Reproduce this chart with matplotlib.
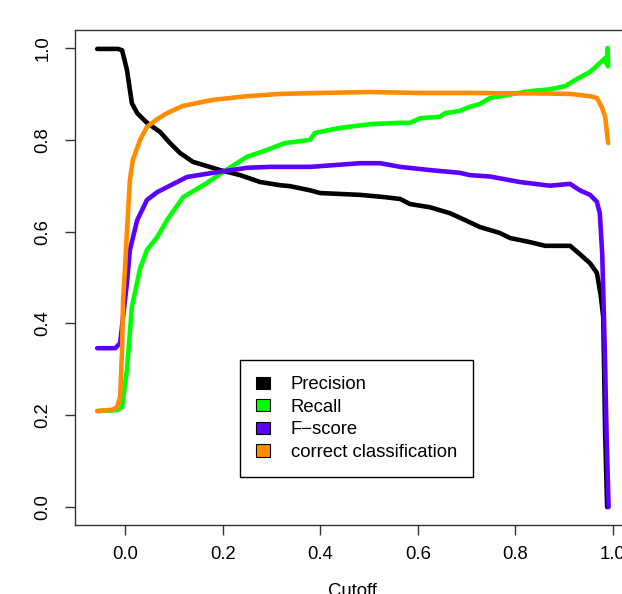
import matplotlib
matplotlib.use("Agg")
import matplotlib.pyplot as plt
from matplotlib.patches import Patch

plt.rcParams['font.family'] = ['Liberation Sans', 'DejaVu Sans']

# ---- data ----
prec_x = [-0.057, -0.014, -0.006, 0.004, 0.014, 0.025, 0.045, 0.072, 0.092, 0.113,
          0.139, 0.195, 0.236, 0.277, 0.318, 0.338, 0.379, 0.400, 0.482, 0.533,
          0.564, 0.584, 0.625, 0.666, 0.697, 0.727, 0.768, 0.789, 0.830, 0.861,
          0.912, 0.932, 0.953, 0.967, 0.975, 0.980, 0.984, 0.988]
prec_y = [0.998, 0.998, 0.995, 0.952, 0.880, 0.858, 0.837, 0.817, 0.793, 0.771,
          0.752, 0.734, 0.723, 0.708, 0.701, 0.699, 0.690, 0.684, 0.680, 0.675,
          0.671, 0.660, 0.653, 0.640, 0.625, 0.610, 0.597, 0.586, 0.577, 0.569,
          0.569, 0.551, 0.531, 0.510, 0.460, 0.414, 0.160, 0.000]

rec_x = [-0.057, -0.016, -0.006, 0.004, 0.010, 0.014, 0.031, 0.045, 0.066, 0.086,
         0.119, 0.168, 0.201, 0.250, 0.291, 0.318, 0.328, 0.359, 0.379, 0.389,
         0.441, 0.502, 0.564, 0.584, 0.605, 0.645, 0.656, 0.686, 0.707, 0.727,
         0.748, 0.768, 0.830, 0.871, 0.902, 0.922, 0.953, 0.973, 0.984, 0.987,
         0.989, 0.990]
rec_y = [0.209, 0.211, 0.218, 0.300, 0.380, 0.436, 0.520, 0.560, 0.588, 0.625,
         0.675, 0.706, 0.730, 0.763, 0.778, 0.789, 0.793, 0.797, 0.800, 0.815,
         0.826, 0.834, 0.837, 0.837, 0.847, 0.850, 0.858, 0.863, 0.872, 0.878,
         0.891, 0.895, 0.906, 0.910, 0.917, 0.930, 0.948, 0.967, 0.978, 0.965,
         1.000, 0.960]

f_x = [-0.057, -0.020, -0.010, -0.004, 0.004, 0.010, 0.025, 0.045, 0.066, 0.092,
       0.127, 0.180, 0.250, 0.297, 0.379, 0.482, 0.523, 0.564, 0.625, 0.686,
       0.707, 0.748, 0.809, 0.871, 0.912, 0.932, 0.953, 0.967, 0.973, 0.978,
       0.983, 0.987, 0.991]
f_y = [0.346, 0.346, 0.357, 0.414, 0.488, 0.560, 0.625, 0.669, 0.686, 0.700,
       0.719, 0.728, 0.739, 0.741, 0.741, 0.749, 0.749, 0.741, 0.734, 0.728,
       0.723, 0.720, 0.708, 0.700, 0.704, 0.690, 0.680, 0.665, 0.640, 0.550,
       0.350, 0.150, 0.000]

cc_x = [-0.057, -0.025, -0.016, -0.010, -0.006, -0.004, 0.000, 0.004, 0.010, 0.016,
        0.031, 0.045, 0.066, 0.086, 0.119, 0.180, 0.250, 0.318, 0.400, 0.502,
        0.605, 0.707, 0.850, 0.912, 0.953, 0.967, 0.977, 0.984, 0.990]
cc_y = [0.209, 0.212, 0.218, 0.240, 0.342, 0.450, 0.520, 0.600, 0.712, 0.756,
        0.800, 0.828, 0.845, 0.858, 0.874, 0.887, 0.895, 0.900, 0.902, 0.904,
        0.902, 0.902, 0.901, 0.900, 0.895, 0.891, 0.871, 0.850, 0.793]

series_names = ["Precision", "Recall", "F\u2212score", "correct classification"]
series_colors = ["#000000", "#00FF00", "#5B00FF", "#FF8C00"]
x_ticks = [0.0, 0.2, 0.4, 0.6, 0.8, 1.0]
y_ticks = [0.0, 0.2, 0.4, 0.6, 0.8, 1.0]
tick_labels = ["0.0", "0.2", "0.4", "0.6", "0.8", "1.0"]

# ---- figure ----
W, H = 622, 594
fig = plt.figure(figsize=(W / 100, H / 100), dpi=100)
ax = fig.add_axes([75 / W, 69 / H, 554 / W, 495 / H])

data = [(prec_x, prec_y), (rec_x, rec_y), (f_x, f_y), (cc_x, cc_y)]
for (xs, ys), c in zip(data, series_colors):
    ax.plot(xs, ys, color=c, lw=3.3, solid_capstyle='round', solid_joinstyle='round')

ax.set_xlim(-0.1025, 1.0328)
ax.set_ylim(-0.0392, 1.0392)
ax.set_xticks(x_ticks)
ax.set_xticklabels(tick_labels)
ax.set_yticks(y_ticks)
ax.set_yticklabels(tick_labels, rotation=90, va='center')
ax.tick_params(axis='both', direction='out', length=7, width=1, labelsize=13.3,
               color='#333333')
ax.tick_params(axis='x', pad=8)
ax.tick_params(axis='y', pad=10)
for s in ax.spines.values():
    s.set_color('#333333')
    s.set_linewidth(1.0)

ax.set_xlabel("Cutoff", fontsize=13.3, va='top')
ax.xaxis.set_label_coords(0.5, -0.117)

handles = [Patch(facecolor=c, edgecolor='black', lw=0.8) for c in series_colors]
leg = ax.legend(handles, series_names, loc='upper left',
                bbox_to_anchor=(240 / W, 1 - 360 / H), bbox_transform=fig.transFigure,
                fontsize=13.3, frameon=True, fancybox=False, framealpha=1,
                edgecolor='black', handlelength=0.76, handleheight=0.65,
                handletextpad=1.1, labelspacing=0.3, borderpad=0.88, borderaxespad=0)
leg.get_frame().set_linewidth(1.0)

fig.savefig("out.png", dpi=100)
